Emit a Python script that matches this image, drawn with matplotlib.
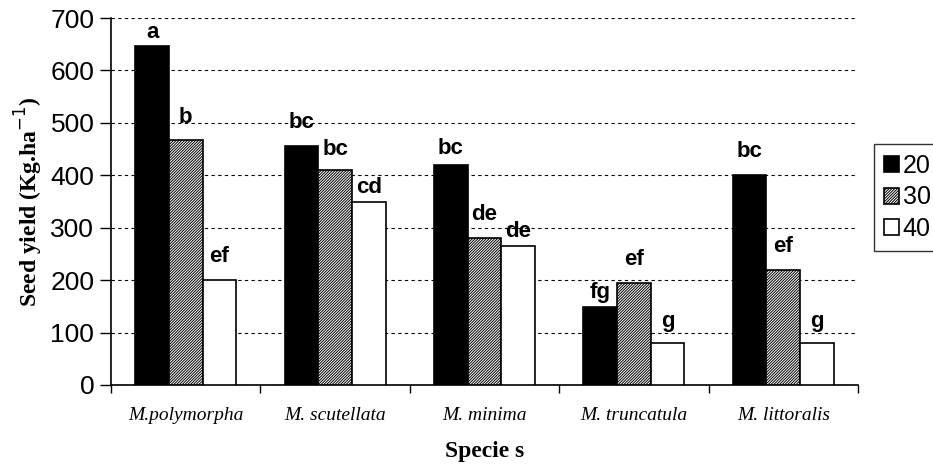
import numpy as np
import matplotlib.pyplot as plt

species = ['M.polymorpha', 'M. scutellata', 'M. minima', 'M. truncatula', 'M. littoralis']
series_names = ['20', '30', '40']
yield_20 = [646, 455, 420, 149, 400]
yield_30 = [468, 410, 280, 194, 219]
yield_40 = [200, 350, 265, 80, 80]
letters_20 = ['a', 'bc', 'bc', 'fg', 'bc']
letters_30 = ['b', 'bc', 'de', 'ef', 'ef']
letters_40 = ['ef', 'cd', 'de', 'g', 'g']

# gap between bar top and letter baseline, in pixels (letters were hand placed)
gaps_20 = [8, 18, 11, 9, 18]
gaps_30 = [17, 15, 18, 18, 18]
gaps_40 = [18, 9, 9, 16, 16]

plt.rcParams['hatch.linewidth'] = 0.7

fig = plt.figure(figsize=(9.33, 4.70), dpi=100)
ax = fig.add_axes([111/933, 1-385/470, (858-111)/933, (385-18)/470])

x = np.arange(len(species))
w = 0.225
styles = [dict(color='black', edgecolor='black'),
          dict(color='white', edgecolor='black', hatch='/' * 12),
          dict(color='white', edgecolor='black')]
values = [yield_20, yield_30, yield_40]
letters = [letters_20, letters_30, letters_40]
gaps = [gaps_20, gaps_30, gaps_40]

for i in range(3):
    pos = x + (i - 1) * w
    ax.bar(pos, values[i], width=w, linewidth=1.2, label=series_names[i],
           zorder=3, **styles[i])
    for px, v, t, g in zip(pos, values[i], letters[i], gaps[i]):
        ax.annotate(t, (px, v), xytext=(0, g * 0.72), textcoords='offset points',
                    ha='center', va='baseline', fontsize=16, fontweight='bold',
                    family='Liberation Sans', zorder=4)

ax.set_xlim(-0.5, len(species) - 0.5)
ax.set_ylim(0, 700)
ax.set_yticks(np.arange(0, 701, 100))
ax.yaxis.grid(True, linestyle=(0, (3, 3)), color='black', linewidth=0.8, zorder=0)
ax.set_axisbelow(True)

ax.set_xticks(x)
ax.set_xticklabels(species, fontsize=14, style='italic', family='Liberation Serif')
ax.set_xticks(np.arange(-0.5, len(species)), minor=True)
ax.tick_params(axis='x', which='major', length=0, pad=16)
ax.tick_params(axis='x', which='minor', length=6, width=1, direction='out')
ax.tick_params(axis='y', length=8, width=1, direction='out', pad=4)
for lab in ax.get_yticklabels():
    lab.set_fontsize(19)
    lab.set_family('Liberation Sans')

for s in ['top', 'right']:
    ax.spines[s].set_visible(False)
for s in ['left', 'bottom']:
    ax.spines[s].set_linewidth(1.2)

ax.set_ylabel('Seed yield (Kg.ha$^{-1}$)', fontsize=17, fontweight='bold',
              family='Liberation Serif', labelpad=4)
ax.set_xlabel('Specie s', fontsize=17, fontweight='bold', family='Liberation Serif',
              labelpad=12)

fig.legend(loc='upper left', bbox_to_anchor=(874/933, 1-144/470),
           frameon=True, fancybox=False, edgecolor='black', handlelength=0.6,
           handleheight=0.6, handletextpad=0.15, labelspacing=0.3,
           borderpad=0.4, borderaxespad=0,
           prop={'family': 'Liberation Sans', 'size': 18})

fig.savefig('out.png', dpi=100)
